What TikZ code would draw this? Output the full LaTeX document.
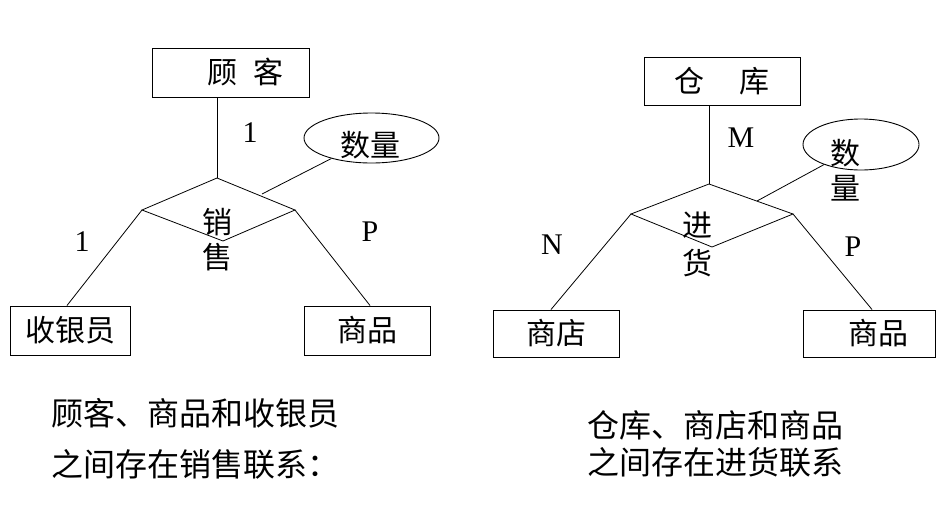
\documentclass[tikz,border=0pt]{standalone}
\usepackage{fontspec}
\setmainfont{Liberation Serif}
\newfontfamily\cjk{Noto Sans CJK SC}
\usetikzlibrary{shapes.geometric}
\begin{document}
\begin{tikzpicture}[x=1pt,y=-1pt,
  entity/.style={draw, line width=1pt, inner sep=0pt, font=\cjk\fontsize{30}{36}\selectfont},
  attr/.style={draw, ellipse, line width=0.9pt, inner sep=0pt},
  rel/.style={draw, line width=0.8pt},
  conn/.style={line width=0.8pt},
  txt/.style={inner sep=0pt, font=\cjk\fontsize{30}{35}\selectfont, align=center},
  lab/.style={inner sep=0pt, font=\fontsize{30}{34}\selectfont},
  note/.style={inner sep=0pt, anchor=west, font=\cjk\fontsize{32}{36}\selectfont}]
\useasboundingbox (0,0) rectangle (947,504);

% ---------- left diagram ----------
\node[entity, minimum width=157pt, minimum height=49pt] (kh) at (230.5,72.5) {\hspace{30pt}顾\hspace{16pt}客};
\node[entity, minimum width=120pt, minimum height=49pt] (syy) at (70,330.5) {收银员};
\node[entity, minimum width=126pt, minimum height=49pt] (sp1) at (367,330.5) {商品};

\coordinate (d1t) at (217,178);
\coordinate (d1l) at (142,210);
\coordinate (d1r) at (295,210);
\coordinate (d1b) at (223,241);
\draw[rel] (d1t) -- (d1r) -- (d1b) -- (d1l) -- cycle;
\node[txt] (d1txt) at (217,239.5) {销\\售};

\node[attr, minimum width=135pt, minimum height=50pt] (sl1) at (371.5,138) {};
\node[txt] (sl1txt) at (370,145) {数量};
\coordinate (a1) at (262,194);

\draw[conn] (kh.south -| d1t) -- (d1t);
\draw[conn] (d1l) -- ([xshift=-3pt]syy.north);
\draw[conn] (d1r) -- ([xshift=3pt]sp1.north);
\draw[conn] (a1) -- (sl1);

\node[lab] (l1a) at (250,133) {1};
\node[lab] (l1b) at (82,242) {1};
\node[lab] (l1c) at (370,232) {P};

% ---------- right diagram ----------
\node[entity, minimum width=156pt, minimum height=48pt] (ck) at (722,81) {仓\hspace{35pt}库};
\node[entity, minimum width=126pt, minimum height=47pt] (sd) at (556,333.5) {商店\hspace{42pt}};
\node[entity, minimum width=132pt, minimum height=47pt] (sp2) at (869,333.5) {\hspace{18pt}商品};

\coordinate (d2t) at (709,184);
\coordinate (d2l) at (631,214);
\coordinate (d2r) at (793,214);
\coordinate (d2b) at (712,247);
\draw[rel] (d2t) -- (d2r) -- (d2b) -- (d2l) -- cycle;
\node[txt, font=\cjk\fontsize{30}{38}\selectfont] (d2txt) at (697,244) {进\\货};

\node[attr, minimum width=116pt, minimum height=51pt] (sl2) at (861,144.5) {};
\node[txt] (sl2txt) at (845,170.5) {数\\量};
\coordinate (a2) at (757,201);

\draw[conn] (ck.south -| d2t) -- (d2t);
\draw[conn] (d2l) -- ([xshift=-5pt]sd.north);
\draw[conn] (d2r) -- ([xshift=3pt]sp2.north);
\draw[conn] (a2) -- (sl2);

\node[lab] (l2a) at (741,138) {M};
\node[lab] (l2b) at (552,245) {N};
\node[lab] (l2c) at (853,247) {P};

% ---------- notes ----------
\node[note] (n1) at (51,413) {顾客、商品和收银员};
\node[note] (n2) at (51,464) {之间存在销售联系：};
\node[note] (n3) at (587,425) {仓库、商店和商品};
\node[note] (n4) at (587,462) {之间存在进货联系};
\end{tikzpicture}
\end{document}
